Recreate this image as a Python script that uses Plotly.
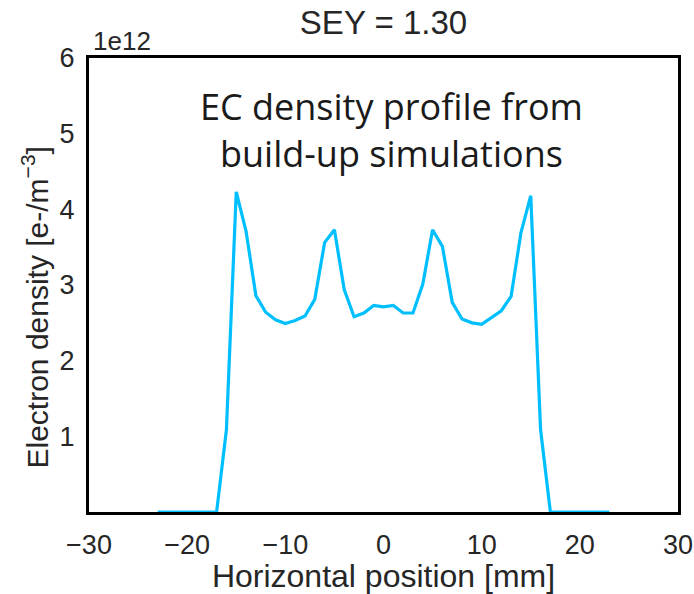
import plotly.graph_objects as go

# Horizontal position across the chamber [mm]
position_mm = list(range(-23, 24))

# Electron-cloud density [e-/m^3] from the build-up simulation
density = [
    0.0, 0.0, 0.0, 0.0, 0.0, 0.0, 0.0,                 # -23 .. -17
    1.09e12, 4.23e12, 3.71e12, 2.86e12, 2.64e12,       # -16 .. -12
    2.54e12, 2.49e12, 2.53e12, 2.59e12, 2.81e12,       # -11 .. -7
    3.56e12, 3.73e12, 2.94e12, 2.58e12, 2.63e12,       # -6 .. -2
    2.73e12, 2.71e12, 2.73e12, 2.63e12, 2.63e12,       # -1 .. 3
    3.01e12, 3.73e12, 3.51e12, 2.77e12, 2.55e12,       # 4 .. 8
    2.50e12, 2.48e12, 2.57e12, 2.66e12, 2.85e12,       # 9 .. 13
    3.69e12, 4.18e12, 1.09e12,                         # 14 .. 16
    0.0, 0.0, 0.0, 0.0, 0.0, 0.0, 0.0,                 # 17 .. 23
]

SCALE = 1e12
x_ticks = [-30, -20, -10, 0, 10, 20, 30]
y_ticks = [1, 2, 3, 4, 5, 6]

title_text = "SEY = 1.30"
y_label = "Electron density [e-/m<sup>\u22123</sup>]"
note_text = "EC density profile from<br>build-up simulations"

TEXT = "#262626"
FONT = "Liberation Sans, Arial, sans-serif"

fig = go.Figure(
    go.Scatter(
        x=position_mm,
        y=[d / SCALE for d in density],
        mode="lines",
        line=dict(color="#00BFFF", width=3.2),
        showlegend=False,
    )
)

fig.update_layout(
    width=694,
    height=594,
    margin=dict(l=89, r=16, t=58, b=82),
    paper_bgcolor="white",
    plot_bgcolor="white",
    font=dict(family=FONT, color=TEXT, size=27),
    title=dict(
        text=title_text,
        x=0.5,
        xref="paper",
        xanchor="center",
        y=0.963,
        yanchor="middle",
        font=dict(size=33, color=TEXT, family=FONT),
    ),
    annotations=[
        # offset/multiplier of the y axis
        dict(
            text="1e12",
            xref="paper",
            yref="paper",
            x=0.004,
            y=1.0,
            xanchor="left",
            yanchor="bottom",
            showarrow=False,
            font=dict(size=26, color=TEXT, family=FONT),
        ),
        # y axis title
        dict(
            text=y_label,
            xref="paper",
            yref="paper",
            x=-0.092,
            y=0.45,
            xanchor="center",
            yanchor="middle",
            textangle=-90,
            showarrow=False,
            font=dict(size=30, color=TEXT, family=FONT),
        ),
        dict(
            text=note_text,
            xref="paper",
            yref="paper",
            x=0.513,
            y=0.842,
            xanchor="center",
            yanchor="middle",
            showarrow=False,
            font=dict(size=36, color="#1a1a1a", family="Open Sans, Noto Sans, sans-serif"),
        ),
    ],
)

fig.update_xaxes(
    range=[-30, 30],
    tickvals=x_ticks,
    ticks="outside",
    ticklen=7,
    tickcolor="rgba(0,0,0,0)",
    showgrid=False,
    zeroline=False,
    showline=True,
    linecolor="black",
    linewidth=3,
    mirror=True,
    automargin=False,
    tickfont=dict(size=27, color=TEXT),
    title=dict(text="Horizontal position [mm]", font=dict(size=32, color=TEXT), standoff=6),
)

fig.update_yaxes(
    range=[0, 6],
    tickvals=y_ticks,
    ticks="outside",
    ticklen=6,
    tickcolor="rgba(0,0,0,0)",
    showgrid=False,
    zeroline=False,
    showline=True,
    linecolor="black",
    linewidth=3,
    mirror=True,
    automargin=False,
    tickfont=dict(size=27, color=TEXT),
)

fig.write_html("out.html")
